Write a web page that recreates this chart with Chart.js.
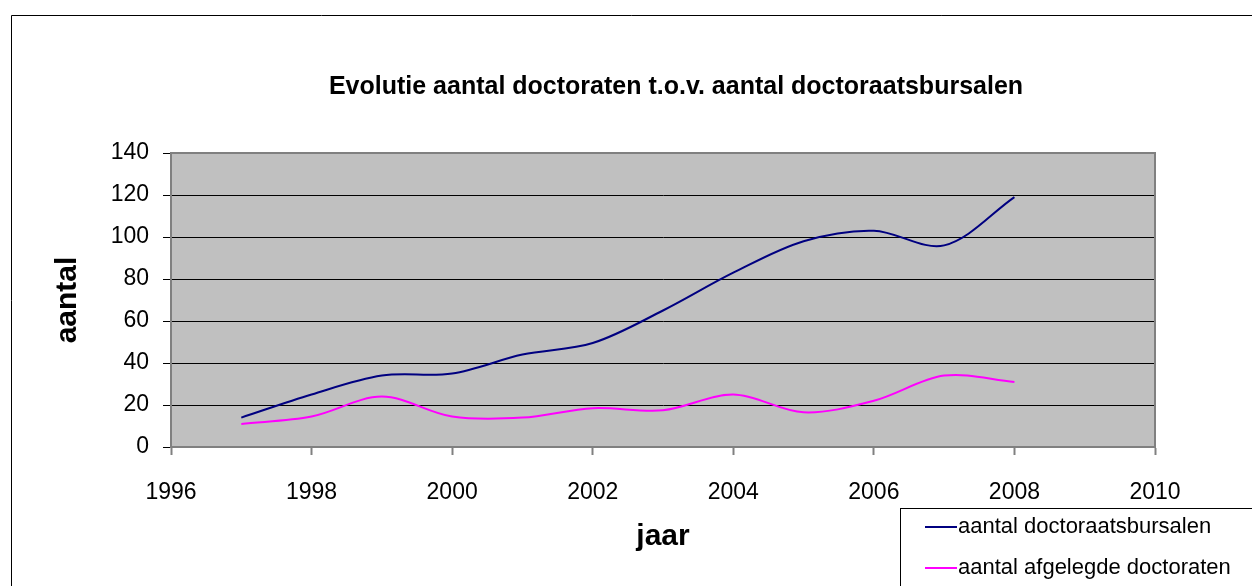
<!DOCTYPE html>
<html>
<head>
<meta charset="utf-8">
<script src="https://cdn.jsdelivr.net/npm/chart.js@4.4.1/dist/chart.umd.min.js"></script>
<style>
  html, body { margin: 0; padding: 0; background: #fff; }
  #wrap { width: 1252px; height: 586px; position: relative; }
</style>
</head>
<body>
<div id="wrap"><canvas id="c" width="1252" height="586"></canvas></div>
<script>
// ---- data ----
const years = [1997, 1998, 1999, 2000, 2001, 2002, 2003, 2004, 2005, 2006, 2007, 2008];
const bursalen = [14, 25, 34, 35, 44, 49.5, 65, 83, 98, 103, 96, 119];
const doctoraten = [11, 14.5, 24, 14.5, 14, 18.5, 17.5, 25, 16.5, 22, 34, 31];
const seriesNames = ['aantal doctoraatsbursalen', 'aantal afgelegde doctoraten'];
const xTickValues = [1996, 1998, 2000, 2002, 2004, 2006, 2008, 2010];
const yTickValues = [0, 20, 40, 60, 80, 100, 120, 140];
const chartTitle = 'Evolutie aantal doctoraten t.o.v. aantal doctoraatsbursalen';
const xTitle = 'jaar';
const yTitle = 'aantal';

const FONT = "'Liberation Sans', Arial, Helvetica, sans-serif";
Chart.defaults.font.family = FONT;
Chart.defaults.color = '#000';

const toPoints = vals => years.map((yr, i) => ({ x: yr, y: vals[i] }));

const decor = {
  id: 'decor',
  beforeDraw(chart) {
    const { ctx, chartArea: a } = chart;
    ctx.save();
    ctx.fillStyle = '#c0c0c0';
    ctx.fillRect(a.left, a.top, a.right - a.left, a.bottom - a.top);
    ctx.restore();
  },
  afterDatasetsDraw(chart) {
    const { ctx, chartArea: a } = chart;
    ctx.save();
    ctx.strokeStyle = '#808080';
    ctx.lineWidth = 2;
    ctx.beginPath();
    ctx.moveTo(a.left, a.top);
    ctx.lineTo(a.right, a.top);
    ctx.lineTo(a.right, a.bottom);
    ctx.stroke();
    ctx.restore();
  },
  afterDraw(chart) {
    const { ctx } = chart;
    ctx.save();
    // outer frame
    ctx.strokeStyle = '#000';
    ctx.lineWidth = 1;
    ctx.beginPath();
    ctx.moveTo(11.5, 586);
    ctx.lineTo(11.5, 15.5);
    ctx.lineTo(1252, 15.5);
    ctx.stroke();
    // title
    ctx.fillStyle = '#000';
    ctx.font = "bold 25px " + FONT;
    ctx.textAlign = 'center';
    ctx.textBaseline = 'middle';
    ctx.fillText(chartTitle, 676, 87);
    // legend box
    ctx.fillStyle = '#fff';
    ctx.fillRect(900, 508, 352, 78);
    ctx.strokeStyle = '#000';
    ctx.strokeRect(900.5, 508.5, 360, 100);
    ctx.font = "22px " + FONT;
    ctx.textBaseline = 'middle';
    ctx.textAlign = 'left';
    const rows = [527, 568];
    chart.data.datasets.forEach((ds, i) => {
      ctx.strokeStyle = ds.borderColor;
      ctx.lineWidth = 2;
      ctx.beginPath();
      ctx.moveTo(925, rows[i]);
      ctx.lineTo(957, rows[i]);
      ctx.stroke();
      ctx.fillStyle = '#000';
      ctx.fillText(ds.label, 958, rows[i]);
    });
    ctx.restore();
  }
};

new Chart(document.getElementById('c'), {
  type: 'line',
  data: {
    datasets: [
      { label: seriesNames[0], data: toPoints(bursalen), borderColor: '#000080', borderWidth: 2, pointRadius: 0, tension: 0.33, fill: false },
      { label: seriesNames[1], data: toPoints(doctoraten), borderColor: '#ff00ff', borderWidth: 2, pointRadius: 0, tension: 0.33, fill: false }
    ]
  },
  options: {
    responsive: false,
    animation: false,
    events: [],
    layout: { padding: { left: 11, top: 153, right: 97, bottom: 0 } },
    plugins: {
      legend: { display: false },
      tooltip: { enabled: false },
      title: { display: false }
    },
    scales: {
      x: {
        type: 'linear',
        min: 1996, max: 2010,
        afterFit(s) { s.height = 139; },
        afterBuildTicks(s) { s.ticks = xTickValues.map(v => ({ value: v })); },
        ticks: { font: { size: 23 }, color: '#000', padding: 24, maxRotation: 0, callback: v => String(v) },
        grid: { drawOnChartArea: false, drawTicks: true, tickLength: 8, tickColor: '#808080', tickWidth: 2 },
        border: { color: '#808080', width: 2 },
        title: { display: true, text: xTitle, font: { size: 30, weight: 'bold' }, color: '#000', padding: { top: 0, bottom: 31 } }
      },
      y: {
        min: 0, max: 140,
        afterFit(s) { s.width = 160; },
        afterBuildTicks(s) { s.ticks = yTickValues.map(v => ({ value: v })); },
        ticks: { font: { size: 23 }, color: '#000', padding: 14, callback: v => String(v) },
        grid: {
          color: ctx => (ctx.tick && ctx.tick.value === 140) ? '#808080' : '#000',
          lineWidth: 1, tickLength: 8, tickColor: '#000'
        },
        border: { color: '#808080', width: 2 },
        title: { display: true, text: yTitle, font: { size: 30, weight: 'bold' }, color: '#000', padding: { top: 39, bottom: 0 } }
      }
    }
  },
  plugins: [decor]
});
</script>
</body>
</html>
